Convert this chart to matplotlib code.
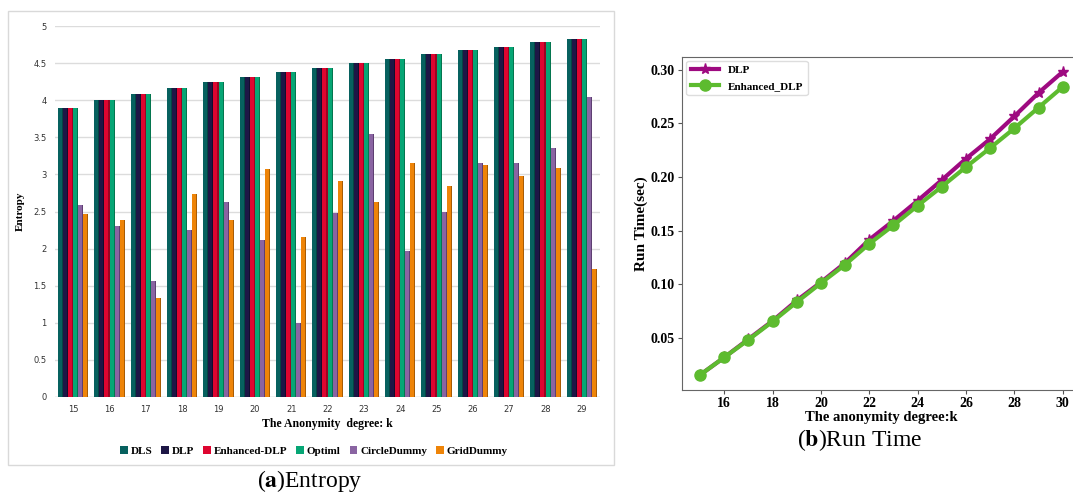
import numpy as np
import matplotlib
matplotlib.use('Agg')
import matplotlib.pyplot as plt
from matplotlib.patches import Rectangle

# ---- data (a) Entropy ----
k_bar = [15, 16, 17, 18, 19, 20, 21, 22, 23, 24, 25, 26, 27, 28, 29]
top_vals = [3.9, 4.0, 4.08, 4.16, 4.24, 4.31, 4.38, 4.44, 4.5, 4.56, 4.62, 4.67, 4.72, 4.78, 4.83]
dls = top_vals
dlp = top_vals
enhanced_dlp = top_vals
optiml = top_vals
circle_dummy = [2.59, 2.31, 1.56, 2.25, 2.63, 2.11, 1.0, 2.48, 3.55, 1.97, 2.5, 3.16, 3.16, 3.36, 4.04]
grid_dummy = [2.46, 2.39, 1.34, 2.73, 2.39, 3.07, 2.16, 2.91, 2.63, 3.15, 2.84, 3.12, 2.98, 3.08, 1.73]
bar_names = ['DLS', 'DLP', 'Enhanced-DLP', 'Optiml', 'CircleDummy', 'GridDummy']
bar_colors = ['#07615F', '#1E1646', '#DE0530', '#06A675', '#8A64A2', '#EE8408']
side_colors = ['#044543', '#120d2e', '#9c0322', '#04764f', '#5e3f72', '#a95c04']

# ---- data (b) Run Time ----
k_line = [15, 16, 17, 18, 19, 20, 21, 22, 23, 24, 25, 26, 27, 28, 29, 30]
dlp_time = [0.0157, 0.032, 0.049, 0.066, 0.085, 0.102, 0.120, 0.1416, 0.1593, 0.1779,
            0.1972, 0.217, 0.2354, 0.2565, 0.2783, 0.2979]
enh_time = [0.0157, 0.032, 0.0484, 0.0654, 0.0835, 0.1012, 0.1183, 0.1378, 0.155, 0.1733,
            0.191, 0.2093, 0.227, 0.2453, 0.2646, 0.2839]

serif = ['Liberation Serif', 'DejaVu Serif']

fig = plt.figure(figsize=(10.73, 4.96), dpi=100)

# outer frame of panel (a)
fig.patches.append(Rectangle((8 / 1073, 1 - 465 / 496), 606 / 1073, 454 / 496,
                             transform=fig.transFigure, fill=False,
                             edgecolor='#d9d9d9', linewidth=1.0))

ax1 = fig.add_axes([55 / 1073, 1 - 397 / 496, 545 / 1073, 371 / 496])
series = [dls, dlp, enhanced_dlp, optiml, circle_dummy, grid_dummy]
x = np.arange(len(k_bar))
w = 0.139
for i, vals in enumerate(series):
    pos = x + (i - 2.5) * w
    ax1.bar(pos, vals, width=w, color=bar_colors[i], linewidth=0, label=bar_names[i], zorder=3)
    # darker right edge for a faux 3D look
    ax1.bar(pos + w * 0.4, vals, width=w * 0.2, color=side_colors[i], linewidth=0, zorder=3)
ax1.set_xlim(-0.5, len(k_bar) - 0.5)
ax1.set_ylim(0, 5)
ax1.set_yticks(np.arange(0, 5.01, 0.5))
ax1.set_yticklabels(['0', '0.5', '1', '1.5', '2', '2.5', '3', '3.5', '4', '4.5', '5'])
ax1.set_xticks(x)
ax1.set_xticklabels([str(k) for k in k_bar])
ax1.tick_params(axis='x', length=0, labelsize=6, colors='#333333', pad=6)
ax1.tick_params(axis='y', length=0, labelsize=6, colors='#333333', pad=6)
ax1.grid(axis='y', color='#dcdcdc', linewidth=1.0, zorder=0)
for s in ax1.spines.values():
    s.set_visible(False)
ax1.axhline(0, color='#d9d9d9', linewidth=1.0, zorder=1)
ax1.set_ylabel('Entropy', family=serif, fontweight='bold', fontsize=8, labelpad=6)
ax1.set_xlabel('The Anonymity  degree: k', family=serif, fontweight='bold', fontsize=8.5, labelpad=3)
handles, labels = ax1.get_legend_handles_labels()
fig.legend(handles[:6], labels[:6], loc='center', bbox_to_anchor=(314 / 1073, 1 - 451 / 496),
           ncol=6, frameon=False, handlelength=0.7, handleheight=0.7, handletextpad=0.25,
           columnspacing=0.8, prop={'family': serif, 'weight': 'bold', 'size': 8})
fig.text(310 / 1073, 1 - 481 / 496, r'($\mathbf{a}$)Entropy', ha='center', va='center',
         family=serif, fontsize=17, math_fontfamily='stix')

# ---- panel (b) ----
ax2 = fig.add_axes([682 / 1073, 1 - 390 / 496, 398.8 / 1073, 333.3 / 496])
ax2.plot(k_line, dlp_time, color='#9E0A80', linewidth=3, marker='*', markersize=8, label='DLP')
ax2.plot(k_line, enh_time, color='#5DBB2F', linewidth=3, marker='o', markersize=8, label='Enhanced_DLP')
ax2.set_xlim(14.25, 30.75)
ax2.set_ylim(0.0016, 0.3120)
ax2.set_xticks(range(16, 31, 2))
ax2.set_yticks([0.05, 0.10, 0.15, 0.20, 0.25, 0.30])
ax2.set_yticklabels(['0.05', '0.10', '0.15', '0.20', '0.25', '0.30'])
for lab in ax2.get_xticklabels() + ax2.get_yticklabels():
    lab.set_family(serif)
    lab.set_fontweight('bold')
    lab.set_fontsize(10)
ax2.tick_params(length=3, color='#555555', pad=2)
for s in ax2.spines.values():
    s.set_color('#666666')
    s.set_linewidth(0.8)
ax2.set_xlabel('The anonymity degree:k', family=serif, fontweight='bold', fontsize=10.5, labelpad=1)
ax2.set_ylabel('Run Time(sec)', family=serif, fontweight='bold', fontsize=11, labelpad=2)
ax2.legend(loc='upper left', prop={'family': serif, 'weight': 'bold', 'size': 8},
           handlelength=2.5, borderaxespad=0.4, framealpha=1, edgecolor='#dddddd')
fig.text(860 / 1073, 1 - 440 / 496, r'($\mathbf{b}$)Run Time', ha='center', va='center',
         family=serif, fontsize=17, math_fontfamily='stix')

fig.savefig('out.png', dpi=100)
